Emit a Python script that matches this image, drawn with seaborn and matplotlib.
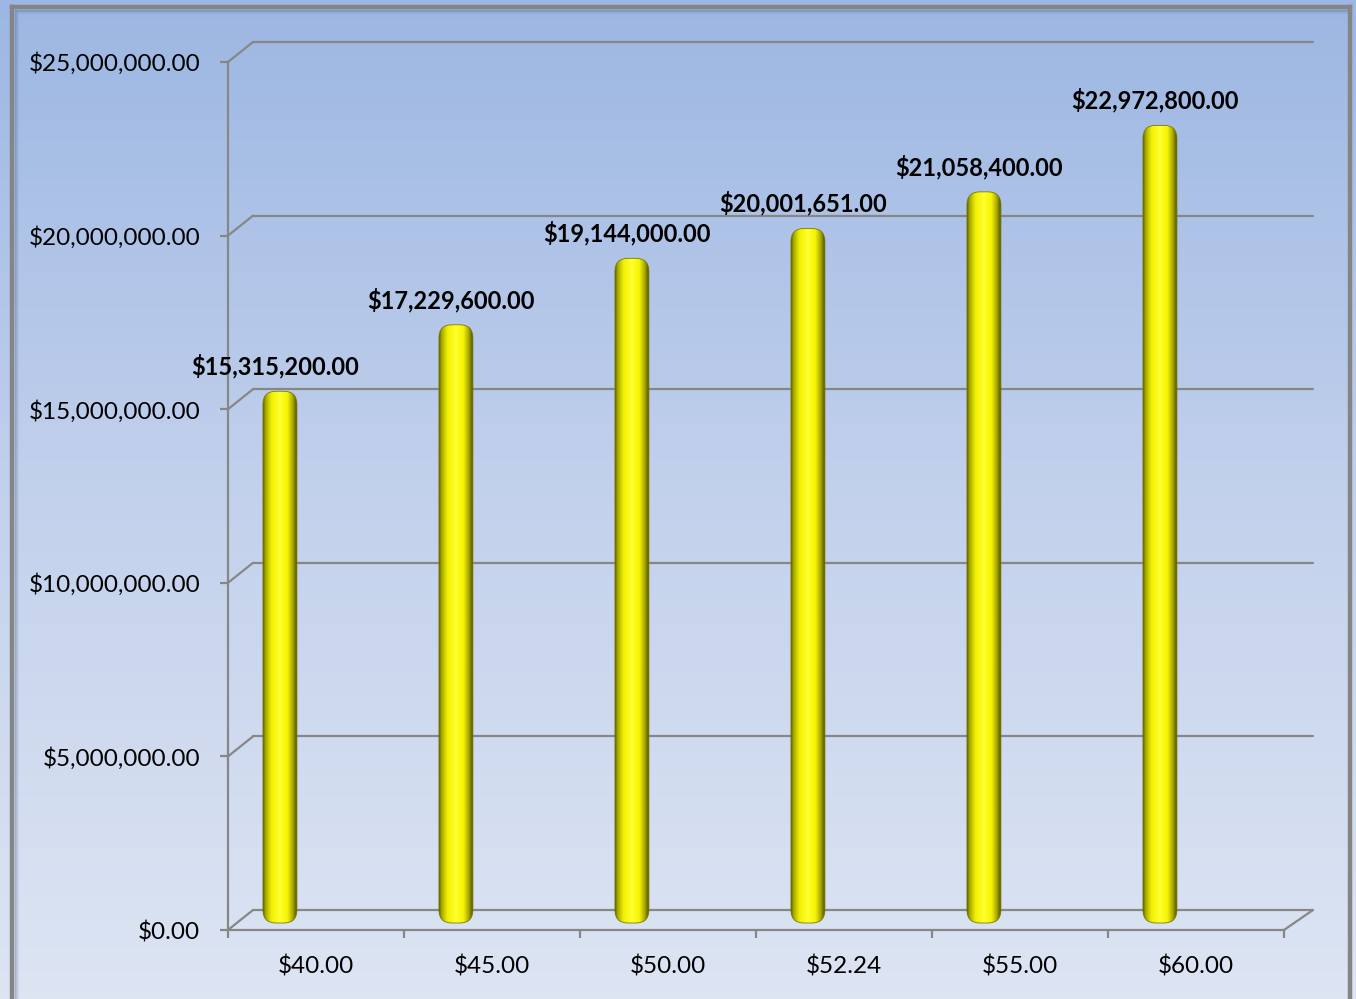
import numpy as np
import pandas as pd
import matplotlib
matplotlib.use("Agg")
import matplotlib.pyplot as plt
import matplotlib.transforms as mtransforms
from matplotlib.patches import FancyBboxPatch
from matplotlib.lines import Line2D
from matplotlib.colors import LinearSegmentedColormap
import seaborn as sns

# ---------------- data ----------------
prices = ["$40.00", "$45.00", "$50.00", "$52.24", "$55.00", "$60.00"]
revenue = [15315200.00, 17229600.00, 19144000.00, 20001651.00, 21058400.00, 22972800.00]
y_ticks = [0, 5000000, 10000000, 15000000, 20000000, 25000000]

# ---------------- layout ----------------
W, H = 1356, 999
DPI = 100
sns.set_theme(style="white")
plt.rcParams["font.family"] = ["Lato", "DejaVu Sans"]

fig = plt.figure(figsize=(W / DPI, H / DPI), dpi=DPI)

# background gradient
bg = fig.add_axes([0, 0, 1, 1], zorder=0)
bg.axis("off")
grad = np.linspace(0, 1, 256)[:, None]
cmap_bg = LinearSegmentedColormap.from_list("bg", ["#9cb7e3", "#c3d1ec", "#dde5f3"])
bg.imshow(grad, aspect="auto", cmap=cmap_bg, extent=[0, 1, 0, 1])
bg.set_xlim(0, 1)
bg.set_ylim(0, 1)

def px(x, y):
    return x / W, 1 - y / H

# outer gray frame + inner shadow
frame_c = "#858585"
for (xa, ya), (xb, yb) in [((12, 1100), (12, 7)), ((12, 7), (1350, 7)), ((1350, 7), (1350, 1100))]:
    p1, p2 = px(xa, ya), px(xb, yb)
    bg.add_line(Line2D([p1[0], p2[0]], [p1[1], p2[1]], color=frame_c, lw=3.2,
                       transform=bg.transAxes, solid_capstyle="projecting"))
for k, a in enumerate([0.35, 0.22, 0.12, 0.06]):
    o = 15 + k
    p1, p2 = px(o, 1100), px(o, o - 5)
    bg.add_line(Line2D([p1[0], p2[0]], [p1[1], p2[1]], color="#4a5f8a", alpha=a, lw=0.9,
                       transform=bg.transAxes))
    p1, p2 = px(o, o - 5), px(1347, o - 5)
    bg.add_line(Line2D([p1[0], p2[0]], [p1[1], p2[1]], color="#4a5f8a", alpha=a, lw=0.9,
                       transform=bg.transAxes))

# main axes = front frame of the 3D box
X0, X1 = 228, 1284
YB, YT = 930, 62
ax = fig.add_axes([X0 / W, 1 - YB / H, (X1 - X0) / W, (YB - YT) / H], zorder=2)
ax.patch.set_alpha(0)

df = pd.DataFrame({"price": prices, "revenue": revenue})
sns.barplot(data=df, x="price", y="revenue", ax=ax, color="#ffff00", width=0.193,
            saturation=1, errorbar=None)
ax.set_xlim(-0.5, 5.5)
ax.set_ylim(0, 25000000)

x_per_px = 6.0 / (X1 - X0)
y_per_px = 25000000 / (YB - YT)

# back wall / floor in perspective
grid_c = "#878787"
dxl, dxr, dy = 25 * x_per_px, 29 * x_per_px, 20 * y_per_px
for t in y_ticks:
    ax.plot([-0.5 + dxl, 5.5 + dxr], [t + dy, t + dy], color=grid_c, lw=1.6,
            clip_on=False, zorder=1)
    ax.plot([-0.5, -0.5 + dxl], [t, t + dy], color=grid_c, lw=1.6, clip_on=False, zorder=1)
ax.plot([5.5, 5.5 + dxr], [0, dy], color=grid_c, lw=1.6, clip_on=False, zorder=1)

# cylinder-looking bars
bar_cmap = LinearSegmentedColormap.from_list(
    "cyl", [(0.0, "#5f5f00"), (0.08, "#a8a800"), (0.25, "#f0f000"), (0.5, "#ffff30"),
            (0.72, "#f4f400"), (0.88, "#a6a600"), (1.0, "#4e4e00")])
shift = -0.205
lift = mtransforms.ScaledTranslation(0, 7 / DPI, fig.dpi_scale_trans)
tr = ax.transData + lift
aspect = y_per_px / x_per_px
patches = list(ax.patches)
for p in patches:
    bx, by, bw, bh = p.get_x() + shift + (p.get_width() - 0.193) / 2, p.get_y(), 0.193, p.get_height()
    p.remove()
    fb = FancyBboxPatch((bx, by), bw, bh, boxstyle=f"round,pad=0,rounding_size={13 * x_per_px}",
                        mutation_aspect=aspect, transform=tr, facecolor="none",
                        edgecolor="#7a7a00", lw=0.6, zorder=3)
    ax.add_patch(fb)
    im = ax.imshow(np.linspace(0, 1, 256)[None, :], cmap=bar_cmap, aspect="auto",
                   extent=[bx, bx + bw, by, by + bh], zorder=2.9, interpolation="bilinear")
    im.set_transform(tr)
    im.set_clip_path(fb)
    ax.annotate(f"${bh:,.2f}", xy=(bx + bw / 2, bh), xytext=(-5, 32), textcoords="offset pixels",
                ha="center", va="center", fontsize=17, fontweight="bold", color="black",
                annotation_clip=False, zorder=5)
ax.set_xlim(-0.5, 5.5)
ax.set_ylim(0, 25000000)

# axes styling
for s in ["top", "right"]:
    ax.spines[s].set_visible(False)
for s in ["left", "bottom"]:
    ax.spines[s].set_color(grid_c)
    ax.spines[s].set_linewidth(1.6)
ax.set_yticks(y_ticks)
ax.set_yticklabels([f"${v:,.2f}" for v in y_ticks])
ax.set_xticks(range(len(prices)))
ax.set_xticklabels(prices)
ax.set_xticks(np.arange(-0.5, 6.0, 1.0), minor=True)
ax.tick_params(axis="y", which="major", direction="out", length=6, width=1.6, color=grid_c,
               labelsize=17.5, pad=14, left=True, labelcolor="black")
ax.tick_params(axis="x", which="major", length=0, labelsize=17.5, pad=18, labelcolor="black")
ax.tick_params(axis="x", which="minor", direction="out", length=6, width=1.6, color=grid_c,
               bottom=True)
ax.set_xlabel("")
ax.set_ylabel("")
ax.grid(False)

fig.savefig("out.png", dpi=DPI)
